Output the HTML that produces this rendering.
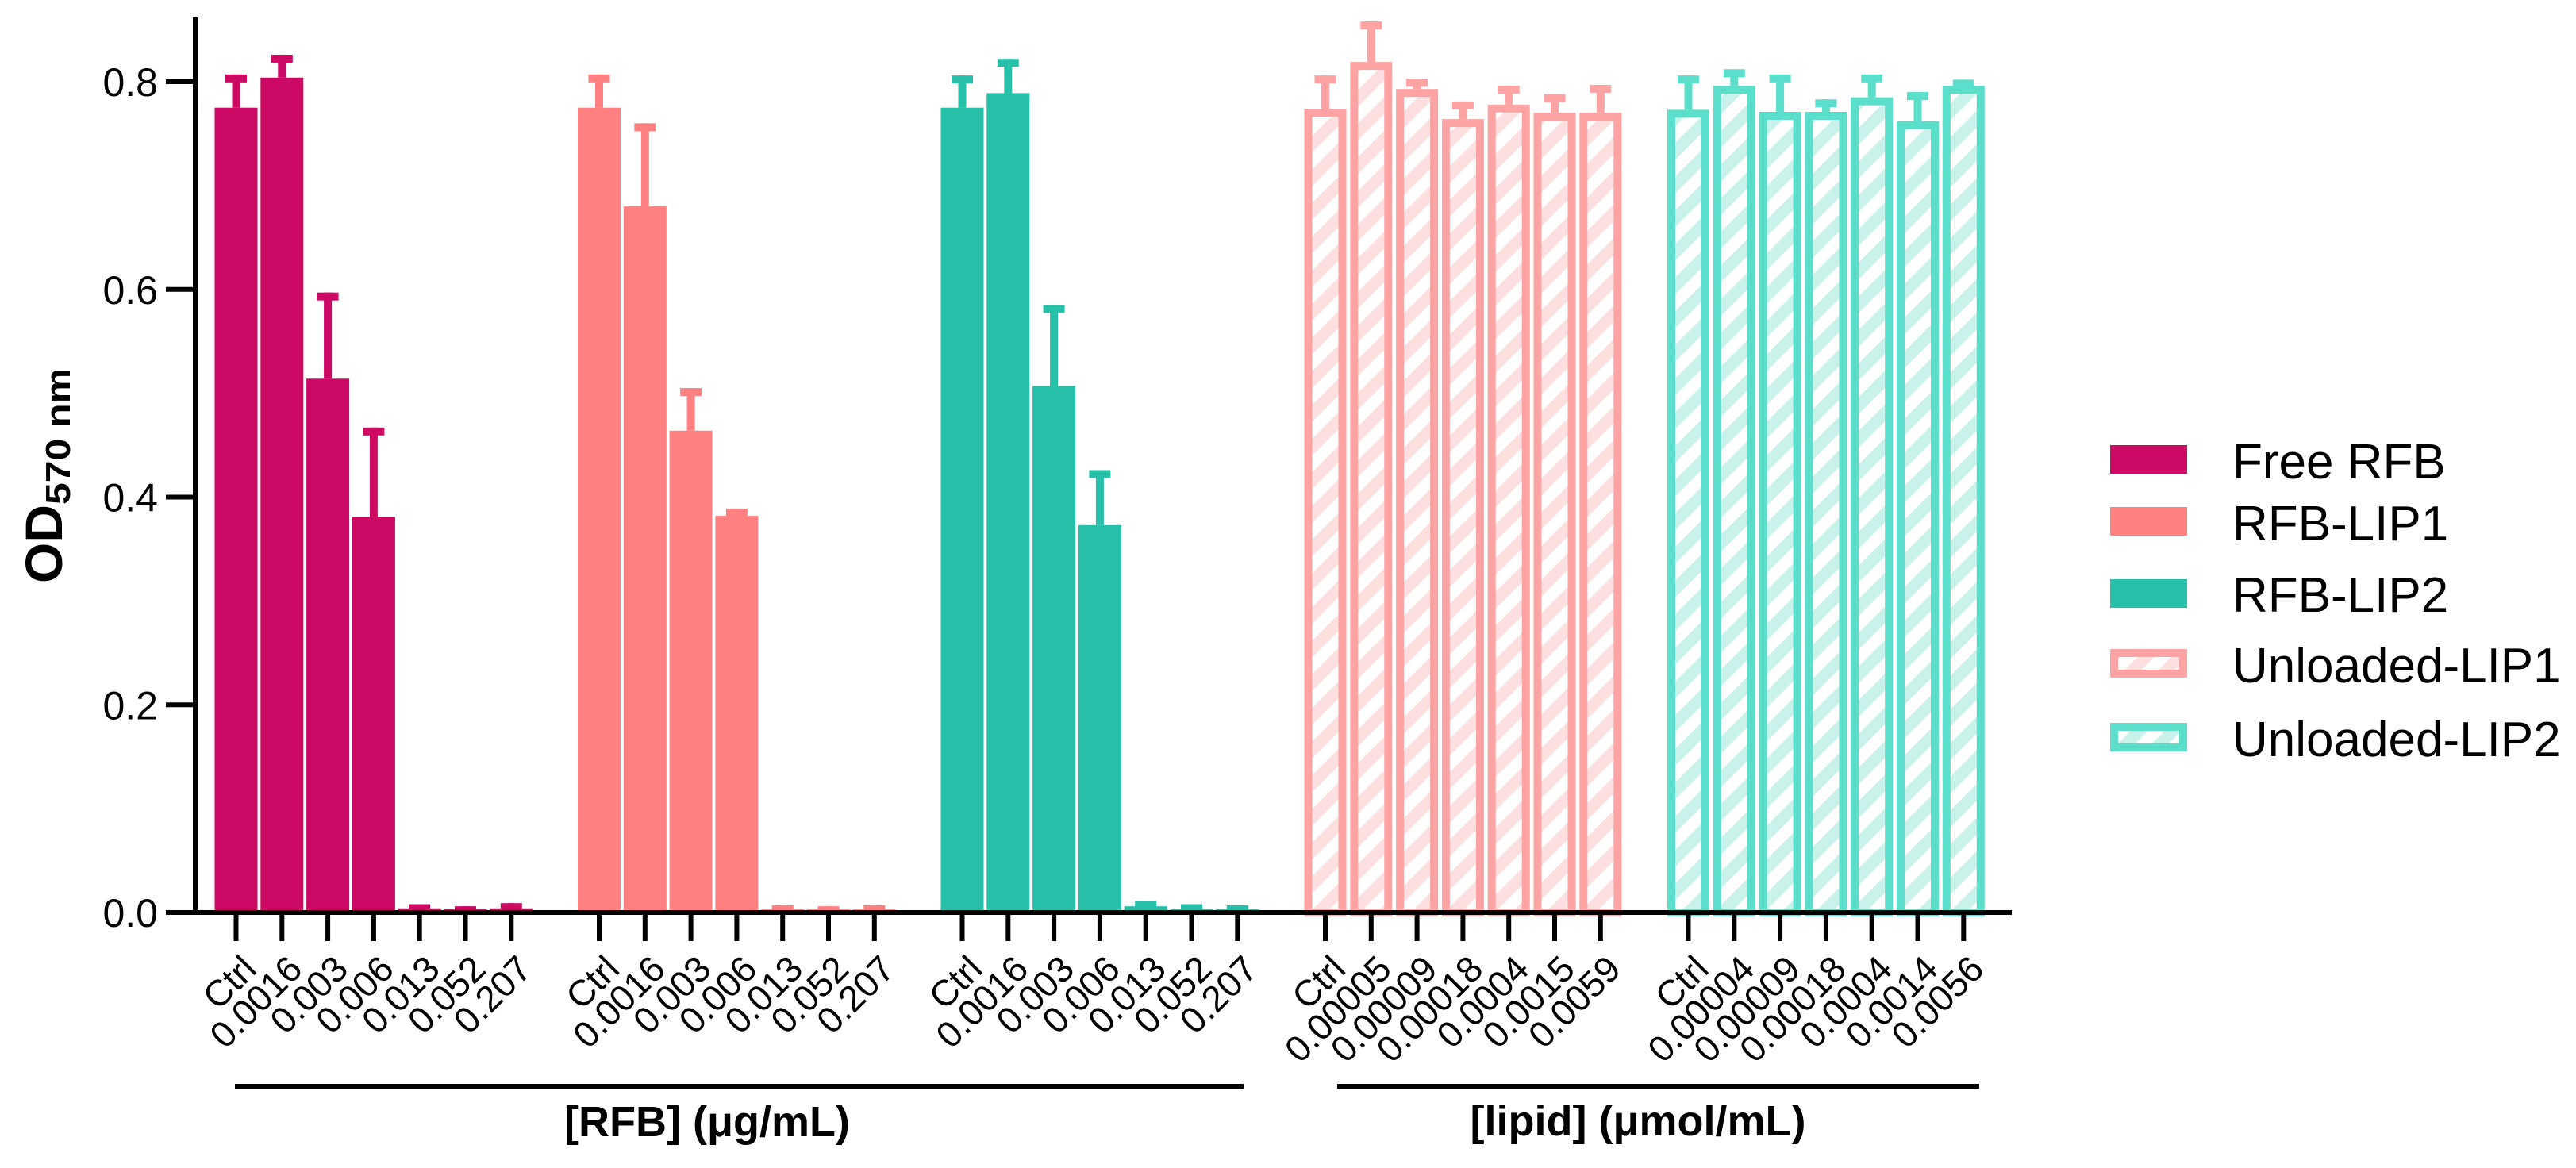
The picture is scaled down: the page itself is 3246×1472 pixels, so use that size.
<!DOCTYPE html>
<html><head><meta charset="utf-8"><style>
html,body{margin:0;padding:0;background:#fff;}
svg{display:block;font-family:"Liberation Sans",Arial,sans-serif;}
</style></head><body>
<svg id="chart" xmlns="http://www.w3.org/2000/svg" width="3246" height="1472" viewBox="0 0 3246 1472">
<defs>
<pattern id="hatch1" patternUnits="userSpaceOnUse" width="30" height="30" patternTransform="rotate(45)">
<rect width="30" height="30" fill="#ffffff"/><rect width="15" height="30" fill="#fddfe0"/></pattern>
<pattern id="hatch2" patternUnits="userSpaceOnUse" width="30" height="30" patternTransform="rotate(45)">
<rect width="30" height="30" fill="#ffffff"/><rect width="15" height="30" fill="#c8f2ea"/></pattern>
</defs>
<g id="bars"></g>
<g id="axes"></g>
<g id="legend"></g>
</svg>
<script>
const yTicks = [0.0, 0.2, 0.4, 0.6, 0.8];
const yTickLabels = ["0.0", "0.2", "0.4", "0.6", "0.8"];
const seriesNames = ["Free RFB", "RFB-LIP1", "RFB-LIP2", "Unloaded-LIP1", "Unloaded-LIP2"];
const catsRFB = ["Ctrl", "0.0016", "0.003", "0.006", "0.013", "0.052", "0.207"];
const catsLIP1 = ["Ctrl", "0.00005", "0.00009", "0.00018", "0.0004", "0.0015", "0.0059"];
const catsLIP2 = ["Ctrl", "0.00004", "0.00009", "0.00018", "0.0004", "0.0014", "0.0056"];
const freeRFB = [0.775, 0.804, 0.514, 0.381, 0.004, 0.003, 0.004];
const freeRFBErr = [0.807, 0.826, 0.597, 0.467, 0.008, 0.006, 0.009];
const rfbLIP1 = [0.775, 0.680, 0.464, 0.382, 0.003, 0.003, 0.003];
const rfbLIP1Err = [0.807, 0.760, 0.505, 0.389, 0.007, 0.006, 0.007];
const rfbLIP2 = [0.775, 0.789, 0.507, 0.373, 0.006, 0.003, 0.003];
const rfbLIP2Err = [0.806, 0.822, 0.585, 0.426, 0.011, 0.008, 0.007];
const unLIP1 = [0.774, 0.819, 0.793, 0.764, 0.778, 0.770, 0.770];
const unLIP1Err = [0.806, 0.858, 0.803, 0.781, 0.796, 0.788, 0.797];
const unLIP2 = [0.773, 0.796, 0.771, 0.771, 0.785, 0.762, 0.796];
const unLIP2Err = [0.806, 0.812, 0.807, 0.783, 0.807, 0.790, 0.802];

const NS = "http://www.w3.org/2000/svg";
const Y0 = 1150, PXU = 1308.75;
function yScale(v){ return Y0 - v*PXU; }
const G0 = 297.5, GSTEP = 457.5, BSTEP = 57.8;
function xScale(g, i){ return G0 + g*GSTEP + i*BSTEP; }
function mk(tag, attrs, parent){
  const e = document.createElementNS(NS, tag);
  for (const k in attrs) e.setAttribute(k, attrs[k]);
  parent.appendChild(e); return e;
}
const bars = document.getElementById('bars');
const axes = document.getElementById('axes');
const legend = document.getElementById('legend');

const groups = [
  {vals: freeRFB, errs: freeRFBErr, cats: catsRFB, color: "#cc0a64", hatch: null},
  {vals: rfbLIP1, errs: rfbLIP1Err, cats: catsRFB, color: "#ff8080", hatch: null},
  {vals: rfbLIP2, errs: rfbLIP2Err, cats: catsRFB, color: "#26bfa8", hatch: null},
  {vals: unLIP1, errs: unLIP1Err, cats: catsLIP1, color: "#fea3a3", hatch: "url(#hatch1)"},
  {vals: unLIP2, errs: unLIP2Err, cats: catsLIP2, color: "#5bdfcb", hatch: "url(#hatch2)"}
];

groups.forEach((g, gi) => {
  g.vals.forEach((v, i) => {
    const cx = xScale(gi, i);
    const top = yScale(v), et = yScale(g.errs[i]);
    const s = mk('rect', {x: cx-5, y: et, width: 10, height: Math.max(0, top-et), fill: g.color}, bars);
    
    
    const c = mk('rect', {x: cx-13.5, y: et, width: 27, height: 10, fill: g.color}, bars);
    
    
    let b;
    if (g.hatch) {
      b = mk('rect', {x: cx-26.5+5, y: top+5, width: 43, height: Math.max(0, Y0-top-5), fill: g.hatch, stroke: g.color, 'stroke-width': 10}, bars);
    } else {
      b = mk('rect', {x: cx-27, y: top, width: 54, height: Y0-top, fill: g.color}, bars);
    }
    
    
    const t = mk('rect', {x: cx-3, y: Y0, width: 6, height: 36, fill: "#000"}, axes);
    
    
    const lx = cx + 28, ly = 1224;
    const tl = mk('text', {x: lx, y: ly, 'font-size': 46, 'text-anchor': 'end', transform: `rotate(-45 ${lx} ${ly})`, fill: "#000"}, axes);
    tl.textContent = g.cats[i];
    
    
  });
});

const xa = mk('rect', {x: 209, y: 1147, width: 2326, height: 6, fill: "#000"}, axes);


const ya = mk('rect', {x: 243, y: 22, width: 6, height: 1131, fill: "#000"}, axes);


yTicks.forEach((v, i) => {
  const y = yScale(v);
  const t = mk('rect', {x: 209, y: y-3, width: 37, height: 6, fill: "#000"}, axes);
  
  
  const l = mk('text', {x: 199, y: y+18, 'font-size': 50, 'text-anchor': 'end', fill: "#000"}, axes);
  l.textContent = yTickLabels[i];
  
  
});

const br1 = mk('rect', {x: 296, y: 1366, width: 1271, height: 6, fill: "#000"}, axes);


const br2 = mk('rect', {x: 1685, y: 1366, width: 809, height: 6, fill: "#000"}, axes);


const bl1 = mk('text', {x: 891, y: 1432, 'font-size': 54, 'font-weight': 'bold', 'text-anchor': 'middle', fill: "#000"}, axes);
bl1.textContent = "[RFB] (μg/mL)";


const bl2 = mk('text', {x: 2064, y: 1431, 'font-size': 54, 'font-weight': 'bold', 'text-anchor': 'middle', fill: "#000"}, axes);
bl2.textContent = "[lipid] (μmol/mL)";



const yt = mk('text', {x: 0, y: 0, 'font-size': 66, 'font-weight': 'bold', transform: 'translate(78 735) rotate(-90)', fill: "#000"}, axes);


yt.appendChild(document.createTextNode("OD"));
const sub = mk('tspan', {'font-size': 44, dy: 10, textLength: 172, lengthAdjust: 'spacingAndGlyphs'}, yt);
sub.textContent = "570 nm";

const legTops = [561, 639, 730, 818, 911];
const legBase = [603, 681, 771, 860, 953];
groups.forEach((g, gi) => {
  let sw;
  if (g.hatch) {
    sw = mk('rect', {x: 2664, y: legTops[gi]+5, width: 87, height: 26, fill: g.hatch, stroke: g.color, 'stroke-width': 10}, legend);
  } else {
    sw = mk('rect', {x: 2659, y: legTops[gi], width: 97, height: 36, fill: g.color}, legend);
  }
  
  
  const lt = mk('text', {x: 2813, y: legBase[gi], 'font-size': 62, fill: "#000"}, legend);
  lt.textContent = seriesNames[gi];
  
  
});
</script>
</body></html>
